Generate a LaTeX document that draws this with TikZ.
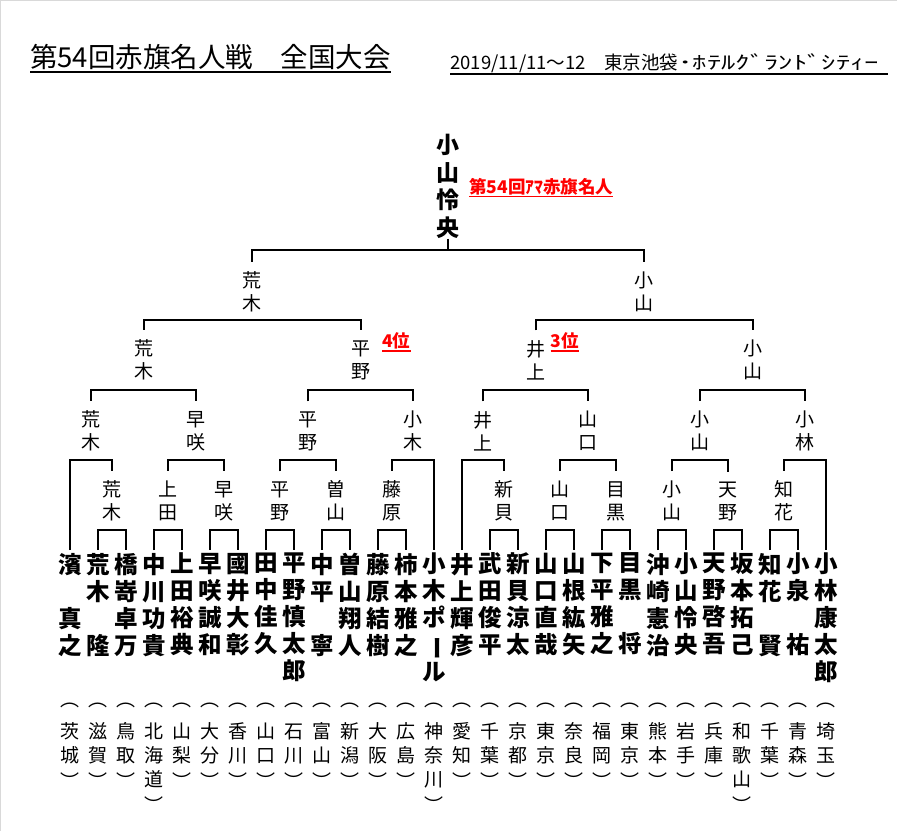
\documentclass[tikz,border=0pt]{standalone}
\usepackage{fontspec}
\usepackage{graphicx}
\setmainfont{Noto Sans CJK JP}
\usetikzlibrary{calc,positioning}

\tikzset{
  player/.style={font=\fontsize{23.5}{27}\selectfont\bfseries, align=center, inner sep=0pt, outer sep=3pt, anchor=north},
  winner/.style={font=\fontsize{19}{23}\selectfont, align=center, inner sep=0pt, outer ysep=10pt},
  champ/.style={font=\fontsize{23}{27.6}\selectfont\bfseries, align=center, inner sep=0pt, outer sep=0pt},
  pref/.style={font=\fontsize{19}{24}\selectfont, align=center, inner sep=0pt, anchor=north},
  redmark/.style={text=red, font=\fontsize{17.5}{20}\selectfont\bfseries, inner sep=0pt, anchor=west},
  bracket/.style={line width=2pt},
}

\begin{document}
\begin{tikzpicture}[x=1pt,y=-1pt]
      \useasboundingbox (0,0) rectangle (897,831);
      \draw[black!15,line width=2pt] (0,831) -- (0,0) -- (897,0);
      \node[anchor=west,inner sep=0pt,font=\fontsize{27.5}{30}\selectfont] (title) at (30,57) {第54回赤旗名人戦　全国大会};
      \draw[line width=1.5pt] ([yshift=-2pt]title.south west) -- ([yshift=-2pt]title.south east);
      \node[anchor=west,inner sep=0pt,font=\fontsize{18.5}{22}\selectfont] (venue) at (450,63) {2019/11/11～12　東京池袋\scalebox{1.55}[1]{･ﾎﾃﾙｸﾞﾗﾝﾄﾞｼﾃｨｰ}};
      \coordinate (venueend) at (888,0);
      \draw[line width=1.5pt] ([yshift=-1pt]venue.south west) -- ([yshift=-1pt]venue.south west -| venueend);
      \foreach \lvl/\y in {l1/530,l2/460,l3/390,l4/320,l5/250,y1/501,y2/431,y3/360,y4/292,y5/186.5}
          \coordinate (\lvl) at (0,\y);
      \foreach \nm [count=\i from 0] in {{濱\\　\\真\\之},{荒\\木\\　\\隆},{橋\\嵜\\卓\\万},{中\\川\\功\\貴},
          {上\\田\\裕\\典},{早\\咲\\誠\\和},{國\\井\\大\\彰},{田\\中\\佳\\久},{平\\野\\慎\\太\\郎},
          {中\\平\\　\\寧},{曽\\山\\翔\\人},{藤\\原\\結\\樹},{柿\\本\\雅\\之},
          {小\\木\\ポ\\\rotatebox[origin=c]{-90}{ー}\\ル},{井\\上\\輝\\彦},{武\\田\\俊\\平},
          {新\\貝\\涼\\太},{山\\口\\直\\哉},{山\\根\\紘\\矢},{下\\平\\雅\\之},{目\\黒\\　\\将},
          {沖\\崎\\憲\\治},{小\\山\\怜\\央},{天\\野\\啓\\吾},{坂\\本\\拓\\己},{知\\花\\　\\賢},
          {小\\泉\\　\\祐},{小\\林\\康\\太\\郎}}
          \node[player] (p\i) at ({70+28*\i},550) {\nm};
      \foreach \pf [count=\i from 0] in {{茨\\城},{滋\\賀},{鳥\\取},{北\\海\\道},{山\\梨},{大\\分},
          {香\\川},{山\\口},{石\\川},{富\\山},{新\\潟},{大\\阪},{広\\島},{神\\奈\\川},{愛\\知},
          {千\\葉},{京\\都},{東\\京},{奈\\良},{福\\岡},{東\\京},{熊\\本},{岩\\手},{兵\\庫},
          {和\\歌\\山},{千\\葉},{青\\森},{埼\\玉}}
          \node[pref] (q\i) at ({70+28*\i},703) {︵\\[8pt]\pf\\[2pt]︶};
      \foreach \n/\l/\r/\t in {a1/p1/p2/荒\\木,a2/p3/p4/上\\田,a3/p5/p6/早\\咲,a4/p7/p8/平\\野,
          a5/p9/p10/曽\\山,a6/p11/p12/藤\\原,a7/p15/p16/新\\貝,a8/p17/p18/山\\口,
          a9/p19/p20/目\\黒,a10/p21/p22/小\\山,a11/p23/p24/天\\野,a12/p25/p26/知\\花}{
          \node[winner] (\n) at ($(\l |- y1)!.5!(\r |- y1)$) {\t};
          \draw[bracket] (\l.north) -- (\l.north |- l1) -- (\r.north |- l1) -- (\r.north);
      }
      \foreach \n/\l/\r/\t in {b1/p0/a1/荒\\木,b2/a2/a3/早\\咲,b3/a4/a5/平\\野,b4/a6/p13/小\\木,
          b5/p14/a7/井\\上,b6/a8/a9/山\\口,b7/a10/a11/小\\山,b8/a12/p27/小\\林}{
          \node[winner] (\n) at ($(\l |- y2)!.5!(\r |- y2)$) {\t};
          \draw[bracket] (\l.north) -- (\l.north |- l2) -- (\r.north |- l2) -- (\r.north);
      }
      \foreach \n/\l/\r/\t in {c1/b1/b2/荒\\木,c2/b3/b4/平\\野,c3/b5/b6/井\\上,c4/b7/b8/小\\山}{
          \node[winner] (\n) at ($(\l |- y3)!.5!(\r |- y3)$) {\t};
          \draw[bracket] (\l.north) -- (\l.north |- l3) -- (\r.north |- l3) -- (\r.north);
      }
      \foreach \n/\l/\r/\t in {d1/c1/c2/荒\\木,d2/c3/c4/小\\山}{
          \node[winner] (\n) at ($(\l |- y4)!.5!(\r |- y4)$) {\t};
          \draw[bracket] (\l.north) -- (\l.north |- l4) -- (\r.north |- l4) -- (\r.north);
      }
      \node[champ] (win) at ($(d1 |- y5)!.5!(d2 |- y5)$) {小\\山\\怜\\央};
      \draw[bracket] (d1.north) -- (d1.north |- l5) -- (d2.north |- l5) -- (d2.north);
      \draw[bracket] (win.south) -- (win.south |- l5);
      \node[redmark, right=9.5pt of win] (amateur) {第54回ｱﾏ赤旗名人};
      \node[redmark] (fourth) at (382,341) {4位};
      \node[redmark] (third) at (550.7,341) {3位};
      \foreach \m in {amateur,fourth,third}
          \draw[red,line width=1.3pt] ([yshift=-1.5pt]\m.south west) -- ([yshift=-1.5pt]\m.south east);
\end{tikzpicture}
\end{document}
